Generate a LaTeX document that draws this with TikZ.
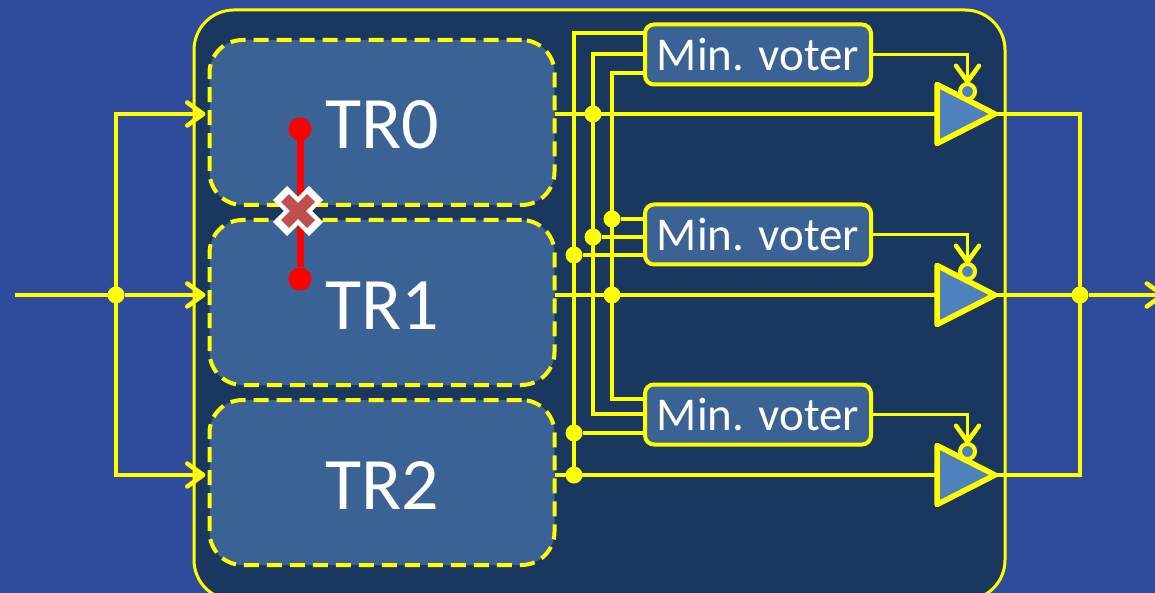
\documentclass[tikz,border=0pt]{standalone}
\usepackage{fontspec}
\setmainfont{Carlito}
\usetikzlibrary{arrows.meta,shapes.geometric}
\definecolor{slide}{HTML}{2F4B9B}
\definecolor{chip}{HTML}{19375F}
\definecolor{block}{HTML}{3A6294}
\definecolor{buff}{HTML}{4F81BD}
\definecolor{wire}{HTML}{FFFF00}
\definecolor{fail}{HTML}{C0504D}
\begin{document}
\begin{tikzpicture}[x=1pt, y=-1pt, >={Straight Barb[length=16pt, width=23pt, line width=4.5pt, round]}, node distance=180pt]
            \tikzstyle{trbox} = [rectangle, draw=wire, fill=block, dashed, dash pattern=on 15pt off 8pt, line width=4pt, rounded corners=33pt, minimum width=345pt, minimum height=165pt, outer sep=0pt, text=white, text height=53pt, font=\fontsize{74}{74}\selectfont]
            \tikzstyle{voter} = [rectangle, draw=wire, fill=block, line width=4pt, rounded corners=9pt, minimum width=226pt, minimum height=60pt, outer sep=0pt, text=white, font=\fontsize{47}{47}\selectfont]
            \tikzstyle{buffer} = [isosceles triangle, isosceles triangle apex angle=54, draw=wire, fill=buff, line width=5.5pt, line join=round, minimum height=58pt, inner sep=0pt, outer sep=0pt, anchor=lower side]
            \tikzstyle{bubble} = [circle, draw=wire, fill=buff, line width=4pt, minimum size=15pt, inner sep=0pt, outer sep=0pt]
            \tikzstyle{junc} = [circle, fill=wire, minimum size=17pt, inner sep=0pt, outer sep=0pt]
            \tikzstyle{wires} = [draw=wire, line width=4pt]
            \tikzstyle{probe} = [circle, fill=red, minimum size=23pt, inner sep=0pt, outer sep=0pt]

            \useasboundingbox (0,0) rectangle (1155,593);
            \fill[slide] (0,0) rectangle (1155,593);
            \draw[draw=wire, fill=chip, line width=3pt, rounded corners=40pt] (194,10) rectangle (1005,600);

            % Blocks
            \node[trbox] (TR0) at (382,122.5) {TR0};
            \node[trbox] (TR1) [below of=TR0] {TR1};
            \node[trbox] (TR2) [below of=TR1] {TR2};

            % Voters
            \node[voter] (V0) at (758,54.5) {Min. voter};
            \node[voter] (V1) [below of=V0] {Min. voter};
            \node[voter] (V2) [below of=V1] {Min. voter};

            % Output buffers
            \node[buffer] (B0) at (937,114) {};
            \node[buffer] (B1) at (937,295) {};
            \node[buffer] (B2) at (937,475) {};
            \node[bubble] (C0) at (967.5,91.5) {};
            \node[bubble] (C1) at (967.5,271.5) {};
            \node[bubble] (C2) at (967.5,451.5) {};

            % Junctions
            \node[junc] (JA) at (593,114) {};
            \node[junc] (JB) at (612,295) {};
            \node[junc] (JC) at (574,475) {};
            \node[junc] (JD) at (612,219) {};
            \node[junc] (JE) at (593,237) {};
            \node[junc] (JF) at (574,255) {};
            \node[junc] (JG) at (574,433) {};
            \node[junc] (JI) at (116,295) {};
            \node[junc] (JO) at (1080,295) {};

            % Voter pins
            \coordinate (V0a) at (645,33);
            \coordinate (V0b) at (645,54);
            \coordinate (V0c) at (645,73);
            \coordinate (V1a) at (645,219);
            \coordinate (V1b) at (645,237);
            \coordinate (V1c) at (645,255);
            \coordinate (V2a) at (645,399);
            \coordinate (V2b) at (645,414);
            \coordinate (V2c) at (645,433);
            \coordinate (In) at (15,295);
            \coordinate (Out) at (1165,295);

            % Bus
            \draw[wires] (JC.center) |- (V0a);
            \draw[wires] (JA.center) |- (V0b);
            \draw[wires] (JD.center) |- (V0c);
            \draw[wires] (JE.center) |- (V2b);
            \draw[wires] (JD.center) -- (JB.center);
            \draw[wires] (JB.center) |- (V2a);
            \draw[wires] (JA.center) -- (JE.center);
            \draw[wires] (JD) -- (V1a);
            \draw[wires] (JE) -- (V1b);
            \draw[wires] (JF) -- (V1c);
            \draw[wires] (JG) -- (V2c);

            % Main lines
            \draw[wires, line width=4.5pt] (TR0.east |- B0.lower side) -- (B0.lower side);
            \draw[wires, line width=4.5pt] (TR1.east |- B1.lower side) -- (B1.lower side);
            \draw[wires, line width=4.5pt] (TR2.east |- B2.lower side) -- (B2.lower side);

            % Input
            \draw[wires, line width=4.5pt] (In) -- (JI);
            \draw[wires, ->, shorten >=4pt] (JI) -- (TR1.west |- JI);
            \draw[wires, ->, shorten >=4pt] (JI.center) |- (TR0.west |- B0.lower side);
            \draw[wires, ->, shorten >=4pt] (JI.center) |- (TR2.west |- B2.lower side);

            % Output
            \draw[wires] (B0.apex) -| (JO.center);
            \draw[wires] (B2.apex) -| (JO.center);
            \draw[wires] (B1.apex) -- (JO);
            \draw[wires, ->] (JO) -- (Out);

            % Enables
            \draw[wires, line width=3.5pt, ->] (V0.east) -| (C0.north);
            \draw[wires, line width=3.5pt, ->] (V1.east) -| (C1.north);
            \draw[wires, line width=3.5pt, ->] (V2.east) -| (C2.north);

            % Fault
            \node[probe] (P0) at (300,129) {};
            \node[probe] (P1) at (300,279) {};
            \draw[draw=red, line width=7pt] (P0) -- (P1);
            \coordinate (X) at (298,211);
            \draw[draw=white, line width=20pt] ([shift={(-18,-18)}]X) -- ([shift={(18,18)}]X);
            \draw[draw=white, line width=20pt] ([shift={(18,-18)}]X) -- ([shift={(-18,18)}]X);
            \draw[draw=fail, line width=11pt] ([shift={(-13,-13)}]X) -- ([shift={(13,13)}]X);
            \draw[draw=fail, line width=11pt] ([shift={(13,-13)}]X) -- ([shift={(-13,13)}]X);

        \end{tikzpicture}
\end{document}
